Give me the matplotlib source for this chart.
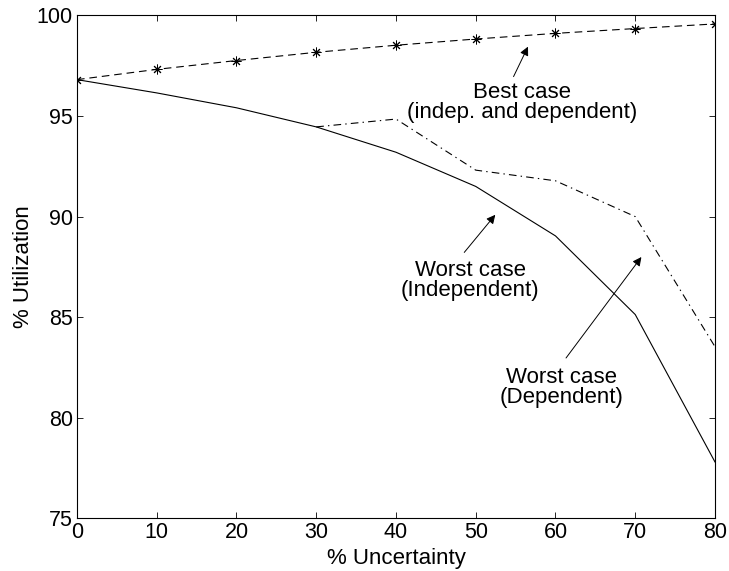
import matplotlib
matplotlib.use('Agg')
import matplotlib.pyplot as plt

# values
uncertainty = [0, 10, 20, 30, 40, 50, 60, 70, 80]
best_case = [96.81, 97.32, 97.76, 98.17, 98.52, 98.83, 99.11, 99.35, 99.58]
worst_indep = [96.81, 96.15, 95.41, 94.46, 93.20, 91.50, 89.04, 85.13, 77.80]
dep_x = [30, 40, 50, 60, 70, 80]
worst_dep = [94.46, 94.85, 92.31, 91.78, 90.00, 83.53]

xticks = [0, 10, 20, 30, 40, 50, 60, 70, 80]
yticks = [75, 80, 85, 90, 95, 100]

plt.rcParams['font.family'] = ['Liberation Sans', 'DejaVu Sans']
plt.rcParams['lines.scale_dashes'] = False

fig = plt.figure(figsize=(7.29, 5.71), dpi=100)
ax = fig.add_axes([0.1056, 0.0923, 0.8752, 0.8806])

ax.plot(uncertainty, best_case, color='k', lw=0.8, linestyle=(0, (5.5, 3.5)),
        marker=(8, 2, 0), markersize=7, markeredgewidth=0.7)
ax.plot(uncertainty, worst_indep, color='k', lw=0.8, linestyle='-')
ax.plot(dep_x, worst_dep, color='k', lw=0.8, linestyle=(0, (5.5, 3, 1, 3)))

ax.set_xlim(0, 80)
ax.set_ylim(75, 100)
ax.set_xticks(xticks)
ax.set_yticks(yticks)
ax.tick_params(direction='in', length=4.5, width=0.6, top=True, right=True,
               labelsize=15.5, pad=3)
for s in ax.spines.values():
    s.set_linewidth(0.8)

ax.set_xlabel('% Uncertainty', fontsize=16, labelpad=3)
ax.set_ylabel('% Utilization', fontsize=16, labelpad=2)

# annotations
txt = dict(fontsize=16, ha='center', va='center', linespacing=0.95)
ax.text(55.8, 95.68, 'Best case\n(indep. and dependent)', **txt)
ax.text(49.3, 86.81, 'Worst case\n(Independent)', **txt)
ax.text(60.7, 81.52, 'Worst case\n(Dependent)', **txt)

arrow = dict(arrowstyle='-|>', color='k', lw=0.7, mutation_scale=13,
             shrinkA=0, shrinkB=0)
ax.annotate('', xy=(56.55, 98.45), xytext=(54.74, 96.96), arrowprops=arrow)
ax.annotate('', xy=(52.45, 90.09), xytext=(48.56, 88.22), arrowprops=arrow)
ax.annotate('', xy=(70.77, 87.99), xytext=(61.32, 82.97), arrowprops=arrow)

fig.savefig('out.png', dpi=100)
